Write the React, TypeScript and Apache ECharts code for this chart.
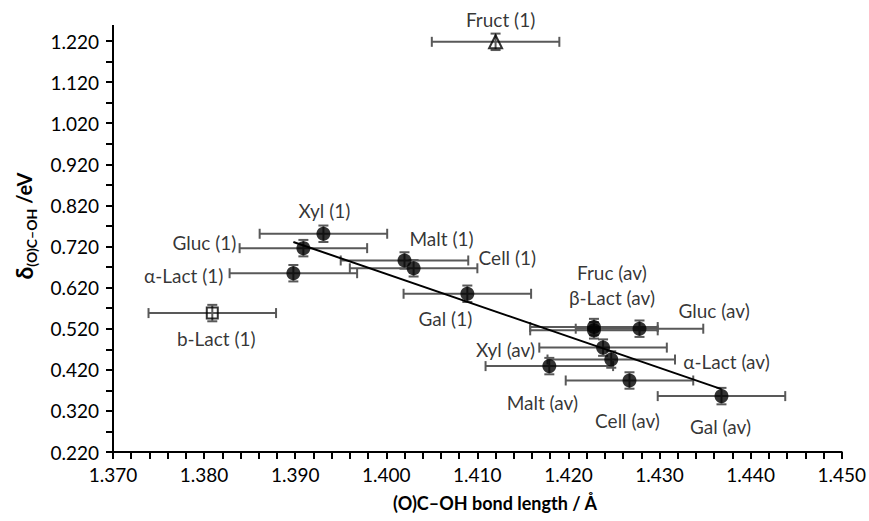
import React, { useEffect, useRef } from "react";
import * as echarts from "echarts";

// ---- data ----
const circleNames = [
  "Xyl (1)", "Gluc (1)", "α-Lact (1)", "Malt (1)", "Cell (1)", "Gal (1)",
  "Fruc (av)", "β-Lact (av)", "Gluc (av)", "Xyl (av)", "α-Lact (av)",
  "Malt (av)", "Cell (av)", "Gal (av)",
];
const circleX = [1.3931, 1.3909, 1.3898, 1.4020, 1.4030, 1.4089, 1.4228, 1.4228, 1.4278, 1.4238, 1.4247, 1.4179, 1.4267, 1.4368];
const circleY = [0.751, 0.716, 0.655, 0.686, 0.667, 0.605, 0.524, 0.516, 0.520, 0.474, 0.445, 0.429, 0.394, 0.356];

const triangleNames = ["Fruct (1)"];
const triangleX = [1.4120];
const triangleY = [1.218];

const squareNames = ["b-Lact (1)"];
const squareX = [1.3809];
const squareY = [0.558];

const xErr = 0.007; // ± bond length
const yErr = 0.02;  // ± delta

const trendX = [1.3898, 1.4368];
const trendY = [0.731, 0.373];

const xAxisMin = 1.37, xAxisMax = 1.45, xAxisStep = 0.01;
const yAxisMin = 0.22, yAxisMax = 1.22, yAxisStep = 0.1;

// label placement (annotation layout only)
const labelLayout: Record<string, { off: [number, number]; align: string }> = {
  "Fruct (1)": { off: [5, -22], align: "center" },
  "Xyl (1)": { off: [1, -23], align: "center" },
  "Gluc (1)": { off: [-67, -6], align: "right" },
  "α-Lact (1)": { off: [-70, 2], align: "right" },
  "b-Lact (1)": { off: [4, 25], align: "center" },
  "Malt (1)": { off: [5, -22], align: "left" },
  "Cell (1)": { off: [65, -11], align: "left" },
  "Gal (1)": { off: [-22, 25], align: "center" },
  "Fruc (av)": { off: [-17, -55], align: "left" },
  "β-Lact (av)": { off: [-25, -33], align: "left" },
  "Gluc (av)": { off: [39, -18], align: "left" },
  "Xyl (av)": { off: [-68, 2], align: "right" },
  "α-Lact (av)": { off: [72, 2], align: "left" },
  "Malt (av)": { off: [-7, 36], align: "center" },
  "Cell (av)": { off: [-2, 40], align: "center" },
  "Gal (av)": { off: [-1, 30], align: "center" },
};

const FONT = "Lato, 'Noto Sans', sans-serif";
const TEXT = "#000000";
const ERR = "#595959";

function points(names: string[], xs: number[], ys: number[]) {
  return names.map((n, i) => {
    const l = labelLayout[n];
    return {
      name: n,
      value: [xs[i], ys[i]],
      label: {
        show: true,
        formatter: n,
        position: "inside",
        offset: l.off,
        align: l.align,
        verticalAlign: "middle",
        color: TEXT,
        fontFamily: FONT,
        fontSize: 19,
      },
    };
  });
}

export default function App() {
  const ref = useRef<HTMLDivElement>(null);
  useEffect(() => {
    document.body.style.margin = "0";
    const chart = echarts.init(ref.current!, null, { renderer: "svg" });
    const allX = [...circleX, ...triangleX, ...squareX];
    const allY = [...circleY, ...triangleY, ...squareY];
    const errData = allX.map((x, i) => [x, allY[i], xErr, yErr]);

    chart.setOption({
      animation: false,
      backgroundColor: "#ffffff",
      grid: { left: 113, right: 23, top: 41, bottom: 69 },
      xAxis: {
        type: "value",
        min: xAxisMin,
        max: xAxisMax,
        interval: xAxisStep,
        axisLine: { show: true, lineStyle: { color: "#000", width: 2 } },
        axisTick: { show: true, inside: false, length: 7, lineStyle: { color: "#000", width: 2 } },
        minorTick: { show: true, splitNumber: 5, length: 7, lineStyle: { color: "#000", width: 2 } },
        splitLine: { show: false },
        axisLabel: {
          margin: 13,
          color: TEXT,
          fontFamily: FONT,
          fontSize: 19,
          formatter: (v: number) => v.toFixed(3),
        },
      },
      yAxis: {
        type: "value",
        min: yAxisMin,
        max: yAxisMax,
        interval: yAxisStep,
        axisLine: { show: true, lineStyle: { color: "#000", width: 2 } },
        axisTick: { show: true, inside: false, length: 7, lineStyle: { color: "#000", width: 2 } },
        minorTick: { show: true, splitNumber: 2, length: 7, lineStyle: { color: "#000", width: 2 } },
        splitLine: { show: false },
        axisLabel: {
          margin: 14,
          color: TEXT,
          fontFamily: FONT,
          fontSize: 19,
          formatter: (v: number) => v.toFixed(3),
        },
      },
      graphic: [
        {
          // short extension of the vertical axis line above the last tick, as in the reference
          type: "line",
          shape: { x1: 113, y1: 25, x2: 113, y2: 41 },
          style: { stroke: "#000", lineWidth: 2 },
        },
        {
          type: "text",
          x: 495,
          y: 503,
          style: {
            text: "(O)C–OH bond length / Å",
            fontFamily: FONT,
            fontWeight: "bold",
            fontSize: 18,
            fill: TEXT,
            align: "center",
            verticalAlign: "middle",
          },
        },
        {
          type: "text",
          x: 24,
          y: 226,
          rotation: Math.PI / 2,
          style: {
            text: "{d|δ}{s|(O)C–OH}{n| /eV}",
            align: "center",
            verticalAlign: "middle",
            fill: TEXT,
            rich: {
              d: { fontFamily: FONT, fontWeight: "bold", fontSize: 23, lineHeight: 28, verticalAlign: "middle", fill: TEXT },
              s: { fontFamily: FONT, fontWeight: "bold", fontSize: 14, lineHeight: 28, verticalAlign: "bottom", fill: TEXT },
              n: { fontFamily: FONT, fontWeight: "bold", fontSize: 20, lineHeight: 28, verticalAlign: "middle", fill: TEXT },
            },
          },
        },
      ],
      series: [
        {
          type: "custom",
          z: 1,
          silent: true,
          data: errData,
          renderItem: (params: any, api: any) => {
            const x = api.value(0), y = api.value(1), xe = api.value(2), ye = api.value(3);
            const l = api.coord([x - xe, y]);
            const r = api.coord([x + xe, y]);
            const t = api.coord([x, y + ye]);
            const b = api.coord([x, y - ye]);
            const cap = 5;
            const st = { stroke: ERR, lineWidth: 2 };
            return {
              type: "group",
              children: [
                { type: "line", shape: { x1: l[0], y1: l[1], x2: r[0], y2: r[1] }, style: st },
                { type: "line", shape: { x1: l[0], y1: l[1] - cap, x2: l[0], y2: l[1] + cap }, style: st },
                { type: "line", shape: { x1: r[0], y1: r[1] - cap, x2: r[0], y2: r[1] + cap }, style: st },
                { type: "line", shape: { x1: t[0], y1: t[1], x2: b[0], y2: b[1] }, style: st },
                { type: "line", shape: { x1: t[0] - cap, y1: t[1], x2: t[0] + cap, y2: t[1] }, style: st },
                { type: "line", shape: { x1: b[0] - cap, y1: b[1], x2: b[0] + cap, y2: b[1] }, style: st },
              ],
            };
          },
        },
        {
          type: "line",
          z: 2,
          silent: true,
          symbol: "none",
          data: trendX.map((x, i) => [x, trendY[i]]),
          lineStyle: { color: "#000", width: 2 },
        },
        {
          type: "scatter",
          z: 3,
          symbol: "circle",
          symbolSize: 14,
          itemStyle: { color: "#000" },
          data: points(circleNames, circleX, circleY),
        },
        {
          type: "scatter",
          z: 3,
          symbol: "triangle",
          symbolSize: 13,
          itemStyle: { color: "rgba(0,0,0,0)", borderColor: "#000", borderWidth: 2 },
          data: points(triangleNames, triangleX, triangleY),
        },
        {
          type: "scatter",
          z: 3,
          symbol: "rect",
          symbolSize: 11,
          itemStyle: { color: "rgba(0,0,0,0)", borderColor: "#000", borderWidth: 2 },
          data: points(squareNames, squareX, squareY),
        },
      ],
    });
    return () => chart.dispose();
  }, []);
  return (
    <div
      ref={ref}
      style={{ position: "fixed", left: 0, top: 0, width: 869, height: 521, background: "#fff" }}
    />
  );
}
